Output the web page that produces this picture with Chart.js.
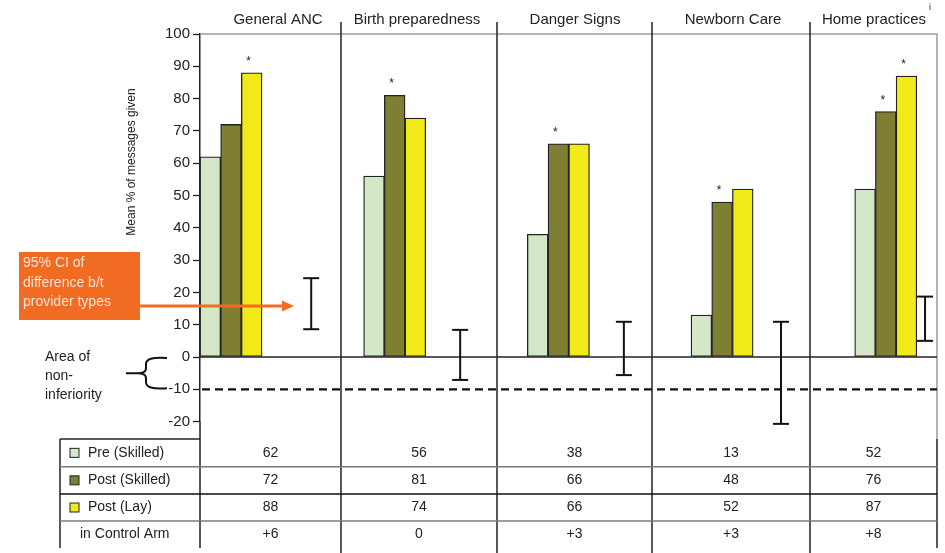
<!DOCTYPE html>
<html>
<head>
<meta charset="utf-8">
<script src="https://cdn.jsdelivr.net/npm/chart.js@4"></script>
<style>
  html, body { margin: 0; padding: 0; background: #fff; }
  #wrap { position: relative; width: 945px; height: 553px; }
</style>
</head>
<body>
<div id="wrap"><canvas id="dataChart1" width="945" height="553"></canvas></div>
<script>
// chart values
const categories = ['General ANC', 'Birth preparedness', 'Danger Signs', 'Newborn Care', 'Home practices']
const series_names = ['Pre (Skilled)', 'Post (Skilled)', 'Post (Lay)']
const pre_skilled = [62, 56, 38, 13, 52]
const post_skilled = [72, 81, 66, 48, 76]
const post_lay = [88, 74, 66, 52, 87]
const control_arm = ['+6', '0', '+3', '+3', '+8']
const ci_low = [8.6, -7.1, -5.6, -20.7, 5.0]
const ci_high = [24.4, 8.4, 10.9, 10.9, 18.7]
const star_skilled = [false, true, true, true, true]
const star_lay = [true, false, false, false, true]
const y_min = -20
const y_max = 100
const y_step = 10
const non_inferiority = -10

// layout
const FONT = '"Liberation Sans", Arial, sans-serif'
const colors = ['#d4e8c8', '#7f7f33', '#f2ea18']
const col_edges = [200, 341, 497, 652, 810, 937]
const header_x = [278, 417, 575, 733, 874]
const ci_offset = [0.49, 0.40, 0.40, 0.36, 0.24]
const row_y = [439, 466.7, 494, 521, 548]

function to_points(values) {
  return values.map((v, i) => ({ x: i, y: v }))
}

function line(ctx, x1, y1, x2, y2) {
  ctx.beginPath()
  ctx.moveTo(x1, y1)
  ctx.lineTo(x2, y2)
  ctx.stroke()
}

const decor_plugin = {
  id: 'decor',
  beforeDatasetsDraw(chart) {
    const ctx = chart.ctx
    const area = chart.chartArea
    const y = chart.scales.y
    ctx.save()
    // grey frame top / right
    ctx.strokeStyle = '#9a9a9a'
    ctx.lineWidth = 1.5
    ctx.beginPath()
    ctx.moveTo(area.left, area.top)
    ctx.lineTo(area.right, area.top)
    ctx.lineTo(area.right, row_y[0])
    ctx.stroke()
    // non-inferiority margin
    const yd = y.getPixelForValue(non_inferiority)
    ctx.strokeStyle = '#111'
    ctx.lineWidth = 2.2
    ctx.setLineDash([8, 5])
    line(ctx, area.left + 2, yd, area.right, yd)
    ctx.restore()
  },
  afterDatasetsDraw(chart) {
    const ctx = chart.ctx
    const area = chart.chartArea
    const x = chart.scales.x
    const y = chart.scales.y
    ctx.save()
    // zero line
    ctx.strokeStyle = '#222'
    ctx.lineWidth = 1.3
    const y0 = y.getPixelForValue(0)
    line(ctx, area.left, y0, area.right, y0)

    // CI of difference
    ctx.strokeStyle = '#111'
    ctx.lineWidth = 2
    categories.forEach((c, i) => {
      const px = x.getPixelForValue(i + ci_offset[i])
      const top = y.getPixelForValue(ci_high[i])
      const bot = y.getPixelForValue(ci_low[i])
      line(ctx, px, top, px, bot)
      line(ctx, px - 8, top, px + 8, top)
      line(ctx, px - 8, bot, px + 8, bot)
    })

    // significance stars
    ctx.fillStyle = '#222'
    ctx.font = '12px ' + FONT
    ctx.textAlign = 'center'
    ctx.textBaseline = 'alphabetic'
    const put_stars = (ds_index, flags) => {
      const meta = chart.getDatasetMeta(ds_index)
      flags.forEach((f, i) => {
        if (!f) return
        const bar = meta.data[i]
        ctx.fillText('*', bar.x - 3, bar.y - 8)
      })
    }
    put_stars(1, star_skilled)
    put_stars(2, star_lay)
    ctx.restore()
  },
  afterDraw(chart) {
    const ctx = chart.ctx
    const area = chart.chartArea
    const y = chart.scales.y
    ctx.save()

    // axis line continues into the table
    ctx.strokeStyle = '#222'
    ctx.lineWidth = 1.5
    line(ctx, area.left, area.bottom, area.left, row_y[4])

    // category dividers
    for (let k = 1; k < col_edges.length - 1; k++) {
      line(ctx, col_edges[k], 22, col_edges[k], 553)
    }

    // headers
    ctx.fillStyle = '#222'
    ctx.font = '15px ' + FONT
    ctx.textAlign = 'center'
    ctx.textBaseline = 'middle'
    categories.forEach((c, i) => ctx.fillText(c, header_x[i], 20))
    const last_w = ctx.measureText(categories[4]).width
    ctx.font = '9px ' + FONT
    ctx.fillText('i', header_x[4] + last_w / 2 + 4, 8)

    // table
    ctx.lineWidth = 1.5
    ctx.strokeStyle = '#222'
    line(ctx, 60, row_y[0], col_edges[0], row_y[0])
    line(ctx, 60, row_y[0], 60, row_y[4])
    line(ctx, col_edges[5], row_y[0], col_edges[5], row_y[4])
    const rule_colors = ['#7a7a7a', '#111', '#7a7a7a']
    for (let r = 1; r < 4; r++) {
      ctx.strokeStyle = rule_colors[r - 1]
      line(ctx, 60, row_y[r], col_edges[5], row_y[r])
    }

    const rows = [pre_skilled, post_skilled, post_lay, control_arm]
    ctx.font = '14px ' + FONT
    ctx.fillStyle = '#222'
    rows.forEach((vals, r) => {
      const cy = (row_y[r] + row_y[r + 1]) / 2
      ctx.textAlign = 'center'
      vals.forEach((v, i) => {
        ctx.fillText(String(v), (col_edges[i] + col_edges[i + 1]) / 2, cy)
      })
      ctx.textAlign = 'left'
      if (r < 3) {
        ctx.fillStyle = colors[r]
        ctx.fillRect(70, cy - 4.5, 9, 9)
        ctx.strokeStyle = '#222'
        ctx.lineWidth = 1
        ctx.strokeRect(70, cy - 4.5, 9, 9)
        ctx.fillStyle = '#222'
        ctx.fillText(series_names[r], 88, cy)
      } else {
        ctx.fillText('in Control Arm', 80, cy)
      }
    })

    // y axis title
    ctx.save()
    ctx.translate(132, 162)
    ctx.rotate(-Math.PI / 2)
    ctx.font = '12px ' + FONT
    ctx.textAlign = 'center'
    ctx.fillText('Mean % of messages given', 0, 0)
    ctx.restore()

    // orange callout + arrow
    ctx.fillStyle = '#f26b22'
    ctx.fillRect(19, 252, 121, 68)
    ctx.strokeStyle = '#f26b22'
    ctx.lineWidth = 3
    line(ctx, 140, 306, 284, 306)
    ctx.beginPath()
    ctx.moveTo(294, 306)
    ctx.lineTo(282, 300.5)
    ctx.lineTo(282, 311.5)
    ctx.closePath()
    ctx.fill()
    ctx.fillStyle = '#fde6d8'
    ctx.font = '14px ' + FONT
    ctx.textAlign = 'left'
    ctx.textBaseline = 'middle'
    ctx.fillText('95% CI of', 23, 263.5)
    ctx.fillText('difference b/t', 23, 282.8)
    ctx.fillText('provider types', 23, 302)

    // area of non-inferiority
    ctx.fillStyle = '#222'
    ctx.fillText('Area of', 45, 357)
    ctx.fillText('non-', 45, 376)
    ctx.fillText('inferiority', 45, 395)
    const y0 = y.getPixelForValue(0)
    const y1 = y.getPixelForValue(non_inferiority)
    const mid = (y0 + y1) / 2
    ctx.strokeStyle = '#111'
    ctx.lineWidth = 2
    ctx.beginPath()
    ctx.moveTo(167, y0 + 1)
    ctx.bezierCurveTo(152, y0, 146, y0 + 2, 146, y0 + 7)
    ctx.lineTo(146, mid - 5)
    ctx.quadraticCurveTo(146, mid, 138, mid)
    ctx.lineTo(126, mid)
    ctx.moveTo(138, mid)
    ctx.quadraticCurveTo(146, mid, 146, mid + 5)
    ctx.lineTo(146, y1 - 7)
    ctx.bezierCurveTo(146, y1 - 2, 152, y1, 167, y1 - 1)
    ctx.stroke()

    ctx.restore()
  }
}

function create_chart(elem_id) {
  const ctx = document.getElementById(elem_id)
  const series = [pre_skilled, post_skilled, post_lay]
  const datasets = series.map((s, k) => ({
    label: series_names[k],
    data: to_points(s),
    backgroundColor: colors[k],
    borderColor: '#222',
    borderWidth: 1.3,
    borderSkipped: false,
    barThickness: 20.7
  }))
  return new Chart(ctx, {
    type: 'bar',
    data: { datasets: datasets },
    options: {
      responsive: false,
      animation: false,
      devicePixelRatio: 1,
      layout: { padding: { left: 0, right: 8, top: 34, bottom: 553 - 421.6 } },
      plugins: { legend: { display: false }, tooltip: { enabled: false } },
      scales: {
        x: {
          type: 'linear',
          display: false,
          min: -0.1894,
          max: 4.313,
          offset: false
        },
        y: {
          min: y_min,
          max: y_max,
          afterFit: (s) => { s.width = 200 },
          border: { display: true, color: '#222', width: 1.5 },
          grid: { drawOnChartArea: false, tickLength: 7, tickColor: '#222', tickWidth: 1.3 },
          ticks: {
            stepSize: y_step,
            padding: 3,
            color: '#222',
            font: { family: FONT, size: 15 }
          }
        }
      }
    },
    plugins: [decor_plugin]
  })
}

create_chart('dataChart1')
</script>
</body>
</html>
